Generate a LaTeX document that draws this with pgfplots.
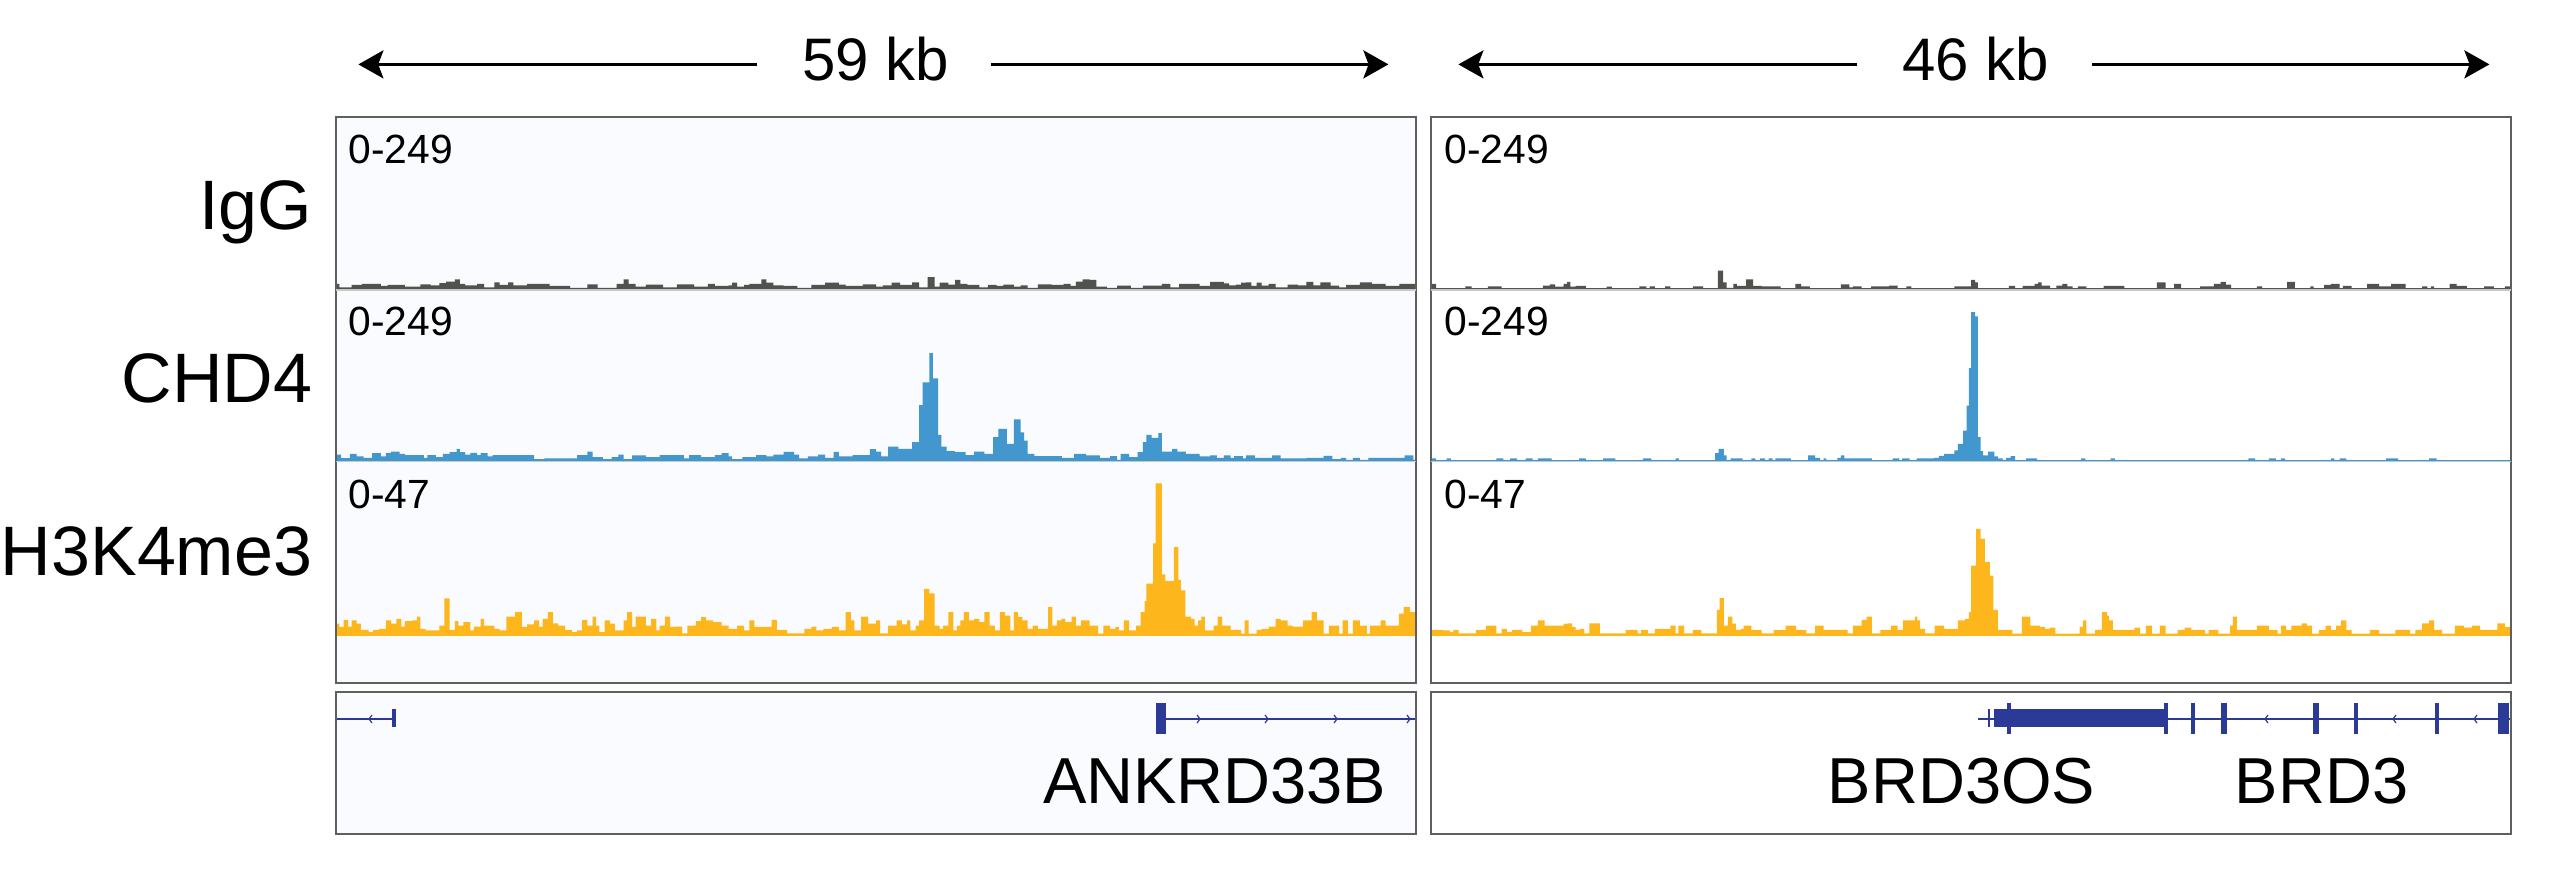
\documentclass[border=0pt]{standalone}
\usepackage{fontspec}
\setmainfont{Liberation Sans}
\usepackage{pgfplots}
\pgfplotsset{compat=1.18}
\usetikzlibrary{arrows.meta}
\definecolor{igg}{RGB}{80,82,78}
\definecolor{chd}{RGB}{66,151,206}
\definecolor{hkm}{RGB}{253,183,28}
\definecolor{gene}{RGB}{43,58,150}
\definecolor{frmc}{RGB}{95,95,95}
\definecolor{sepc}{RGB}{200,200,200}
\definecolor{bgL}{RGB}{249,251,254}
\pgfplotsset{
  trk/.style={scale only axis, anchor=south west, width=270bp, xmin=0, xmax=3136, axis lines=none, clip=true},
  frm/.style={scale only axis, anchor=south west, width=270bp, xmin=0, xmax=1, ymin=0, ymax=1, xtick=\empty, ytick=\empty},
  bars/.style={const plot mark left, fill=#1, draw=none},
  gax/.style={scale only axis, anchor=south west, width=270bp, height=35.5bp, xmin=0, xmax=1080, ymin=-115, ymax=27, axis lines=none, clip=false},
  exon/.style={fill=gene, draw=none},
  intr/.style={gene, line width=0.4bp},
  chev/.style={gene, line width=0.3bp},
}
\newcommand{\igglo}{\fontsize{17.5bp}{20bp}\selectfont}
\newcommand{\rng}{\fontsize{10.2bp}{12bp}\selectfont}
\tikzset{kbarrow/.style={line width=0.75bp, -{Stealth[length=6.25bp,width=7bp,inset=1.3bp]}}}
\begin{document}
\begin{tikzpicture}
\path[use as bounding box] (0,0) rectangle (640bp,221bp);
% ---------- backgrounds
\begin{axis}[frm, at={(84bp,50.25bp)}, height=141.5bp, axis line style={draw=none}, axis background/.style={fill=bgL}]
\addplot[draw=none] coordinates {(0,0)};
\end{axis}
\begin{axis}[frm, at={(84bp,12.5bp)}, height=35.5bp, axis line style={draw=none}, axis background/.style={fill=bgL}]
\addplot[draw=none] coordinates {(0,0)};
\end{axis}
% ---------- LEFT IgG
\begin{axis}[trk, at={(84bp,148.5bp)}, height=43.25bp, ymin=-1.5, ymax=249]
\addplot[bars=igg] coordinates {
(0,7.2) (10,2.4) (45,5.8) (75,7.2) (130,4.3) (150,5.8) (200,3.4) (245,6.7) (275,5.3) (300,8.6) (320,10.6) (345,13.9) (360,7.2) (375,5.3) (410,7.2) (430,2.4) (460,9.6) (475,5.8) (500,9.6) (515,5.3) (555,7.2) (620,4.3) (680,1.4) (730,6.7) (760,1.4) (815,7.2) (835,13.9) (850,7.2) (870,3.4) (900,6.2) (950,2.4) (990,6.7) (1040,3.4) (1080,7.2) (1100,4.3) (1140,5.3) (1150,9.1) (1165,3.4) (1185,5.8) (1200,7.2) (1235,13.9) (1250,9.1) (1270,5.3) (1300,4.3) (1340,1.4) (1380,5.8) (1420,9.1) (1460,6.2) (1480,4.3) (1530,6.7)
(1568,3.4) (1588,5.3) (1613,9.1) (1638,5.8) (1673,9.6) (1693,2.4) (1718,17.3) (1738,3.4) (1753,9.1) (1778,6.2) (1798,13) (1813,7.2) (1833,5.8) (1868,2.4) (1893,5.8) (1918,4.3) (1938,6.2) (1968,3.4) (1988,5.3) (2008,1.4) (2038,6.7) (2078,5.8) (2113,7.2) (2133,4.3) (2148,10.6) (2168,13.9) (2188,13) (2208,3.4) (2238,1.4) (2268,4.8) (2308,1.4) (2343,4.8) (2398,7.2) (2423,2.4) (2448,7.2) (2508,4.3) (2538,10.1) (2578,8.2) (2593,5.3) (2613,6.2) (2628,9.1) (2643,9.6) (2658,4.3) (2673,9.1) (2688,4.8) (2708,7.2) (2728,2.4) (2763,6.2) (2793,5.3) (2818,10.1) (2838,5.3) (2858,9.6) (2888,4.8) (2913,2.4) (2933,5.8) (2973,9.6) (3008,7.2) (3048,4.3) (3088,7.2) (3136,7.2)
} \closedcycle;
\addplot[igg, line width=0.65bp] coordinates {(0,0) (3136,0)};
\end{axis}
% ---------- LEFT CHD4
\begin{axis}[trk, at={(84bp,105.625bp)}, height=42.875bp, ymin=-1.5, ymax=249]
\addplot[bars=chd] coordinates {
(0,8.7) (15,3.4) (40,9.7) (60,5.8) (80,3.9) (105,10.7) (130,5.8) (145,11.2) (160,13.1) (185,9.7) (200,7.8) (255,3.9) (265,7.8) (290,4.9) (310,9.7) (330,12.1) (350,17) (360,12.1) (375,8.7) (390,11.2) (410,7.8) (420,10.7) (440,5.8) (455,7.8) (575,1.9) (605,2.9) (700,7.8) (730,13.1) (745,4.9) (775,1.9) (800,4.9) (820,8.7) (835,1.9) (860,7.3) (900,4.9) (940,7.8) (1010,2.9) (1025,7.8) (1060,4.9) (1100,7.8) (1120,10.7) (1140,5.8) (1150,1.9) (1180,4.9) (1220,7.8) (1250,5.8) (1270,8.7) (1300,12.6) (1330,8.7) (1345,2.9) (1370,5.8) (1400,8.7) (1420,3.9) (1445,12.6) (1460,5.8) (1500,7.8) (1550,16.5)
(1568,13.1) (1583,5.8) (1603,20.4) (1633,17) (1673,26.7) (1693,81) (1703,114) (1723,156.7) (1733,119.8) (1748,37.3) (1758,20.4) (1773,13.6) (1798,12.1) (1828,7.8) (1853,13.1) (1883,9.7) (1908,34) (1923,46) (1948,24.3) (1968,60.1) (1988,41.2) (1998,29.1) (2008,9.7) (2028,6.3) (2108,3.9) (2143,9.7) (2178,7.3) (2218,3.9) (2248,6.3) (2268,1) (2278,9.7) (2303,4.9) (2328,12.1) (2343,26.7) (2353,37.3) (2368,33) (2388,39.8) (2398,13.1) (2428,17) (2443,13.1) (2468,9.7) (2508,5.8) (2538,7.3) (2558,3.9) (2578,7.3) (2598,3.9) (2608,6.3) (2633,2.9) (2643,7.3) (2668,3.9) (2718,7.3) (2743,2.9) (2818,3.9) (2868,6.8) (2893,1.9) (2918,3.9) (2933,1) (2953,3.9) (2973,1) (2998,3.9) (3103,7.3) (3128,1) (3136,1)
} \closedcycle;
\addplot[chd, line width=0.4bp] coordinates {(0,0) (3136,0)};
\end{axis}
% ---------- LEFT H3K4me3
\begin{axis}[trk, at={(84bp,50.25bp)}, height=55.375bp, ymin=-12.83, ymax=47]
\addplot[bars=hkm] coordinates {
(0,3.2) (10,2.3) (22,4.2) (35,2.4) (45,4.1) (60,3.2) (72,1.5) (95,0.9) (108,1.5) (125,1.8) (145,4.1) (160,3.2) (175,4.5) (190,2.4) (200,3.9) (220,4.1) (235,5.1) (245,1.8) (260,1.4) (300,2.7) (315,10) (330,1.5) (345,3.9) (355,2.7) (370,3.6) (390,1.4) (400,2.4) (420,4.5) (430,2.7) (460,1.8) (475,1.4) (495,5.1) (520,6.3) (540,2.3) (555,3) (575,4.1) (590,2.3) (600,4.5) (615,6.3) (630,3.3) (645,2.7) (665,1.5) (685,0.9) (700,1.4) (715,4.2) (730,2.7) (745,5.1) (755,2.7) (765,0.9) (780,4.1) (795,3.2) (810,1.4) (835,4.1) (845,6.3) (860,2.3) (870,5.1) (900,2.7) (915,4.5) (930,1.4) (940,2.7) (955,5.1) (970,2.3) (980,2.4) (1005,0.6) (1020,2.7) (1045,3.9) (1060,5) (1075,4.1) (1095,3.6) (1120,2.7) (1140,1.8) (1165,2.7) (1185,1.4) (1200,4.1) (1215,2.3) (1265,4.2) (1280,1.5) (1310,0.6) (1360,1.8) (1380,2.4) (1395,1.4) (1415,1.8) (1440,2.3) (1460,1.4) (1480,6.3) (1495,4.1) (1505,1.4) (1525,5.1) (1545,3.2)
(1568,4.1) (1580,0.6) (1603,2.7) (1628,4.1) (1643,3) (1658,4.1) (1668,1.4) (1683,2.7) (1693,4.1) (1708,12.6) (1723,11.4) (1738,2.7) (1753,1.8) (1763,2.7) (1778,6.3) (1793,1.4) (1803,2.7) (1813,4.1) (1823,6.3) (1838,4.1) (1853,4.5) (1868,3.6) (1883,6.3) (1898,2.7) (1913,1.4) (1928,6.3) (1943,5.4) (1958,1.4) (1968,6.3) (1980,5) (1993,4.1) (2008,1.8) (2023,2.7) (2038,1.8) (2068,7.7) (2080,2.7) (2093,4.1) (2106,4.5) (2118,3.6) (2136,5.1) (2148,2.7) (2163,4.1) (2188,2.7) (2213,0.5) (2228,2.7) (2248,1.8) (2263,2.3) (2273,1.4) (2288,4.1) (2303,1.4) (2323,2.7) (2336,6.3) (2348,9.3) (2353,14) (2373,24.9) (2380,41.1) (2398,16.5) (2408,14.7) (2433,23.9) (2446,15) (2453,12.2) (2466,5.1) (2483,4.5) (2493,2.7) (2503,4.1) (2513,5.1) (2523,1.4) (2548,2.7) (2560,5.1) (2573,2.7) (2598,1.5) (2628,0.5) (2638,4.1) (2650,0.5) (2673,1.5) (2688,1.8) (2708,2.4) (2728,4.5) (2743,4.1) (2763,2.7) (2778,2.4) (2808,4.1) (2833,6.3) (2848,4.1) (2868,0.5) (2883,2.7) (2913,0.5) (2923,4.1) (2938,0.5) (2953,4.1) (2973,2.7) (2993,0.5) (3003,2.7) (3033,4.1) (3048,2.7) (3086,5.9) (3100,7.7) (3118,6.3) (3136,6.3)
} \closedcycle;
\addplot[hkm, line width=0.4bp] coordinates {(0,0) (3136,0)};
\end{axis}
% ---------- RIGHT IgG
\begin{axis}[trk, at={(357.75bp,148.5bp)}, height=43.25bp, ymin=-1.5, ymax=249]
\addplot[bars=igg] coordinates {
(0,7.2) (15,0) (100,3.8) (118,0) (165,3.8) (205,0) (325,4.8) (345,6.7) (360,3.4) (385,7.2) (395,10.1) (405,3.4) (420,4.3) (450,0) (510,3.4) (525,0) (605,3.8) (625,0) (635,3.8) (650,0) (680,3.8) (695,0) (760,3.8) (790,0) (833,26.4) (848,9.6) (858,1.4) (878,7.2) (888,4.3) (915,13.9) (935,4.3) (960,3.8) (1015,0) (1058,7.2) (1075,3.8) (1100,0) (1190,6.7) (1215,2.4) (1225,3.8) (1250,0) (1278,3.8) (1330,4.8) (1355,0) (1380,3.8) (1395,0) (1520,3.8)
(1568,13) (1580,9.6) (1588,0) (1678,4.3) (1696,0) (1718,4.3) (1753,7.2) (1763,9.6) (1773,4.8) (1798,0) (1816,4.8) (1833,7.2) (1848,3.8) (1863,0) (1878,3.8) (1903,0) (1953,4.3) (2013,0) (2108,9.6) (2133,0) (2158,7.2) (2178,0) (2233,3.8) (2273,7.2) (2293,10.1) (2308,6.2) (2323,0) (2398,3.8) (2413,0) (2486,10.1) (2508,0) (2553,3.8) (2563,0) (2593,5.8) (2613,7.2) (2638,0) (2648,4.3) (2673,0) (2718,7.2) (2753,3.8) (2788,7.2) (2830,0) (2878,3.8) (2893,0) (2903,3.8) (2913,0) (2958,7.2) (2978,4.3) (3008,0) (3058,3.8) (3086,0) (3118,3.8) (3136,3.8)
} \closedcycle;
\addplot[igg, line width=0.65bp] coordinates {(0,0) (3136,0)};
\end{axis}
% ---------- RIGHT CHD4
\begin{axis}[trk, at={(357.75bp,105.625bp)}, height=42.875bp, ymin=-1.5, ymax=249]
\addplot[bars=chd] coordinates {
(0,2.9) (15,0) (45,2.9) (58,0) (190,2.9) (210,0) (230,2.9) (250,0) (275,2.9) (295,0) (310,2.9) (350,0) (430,2.9) (450,0) (500,2.9) (535,0) (615,2.9) (640,0) (710,2.9) (720,0) (825,10.7) (835,17) (850,7.3) (858,0) (870,2.9) (905,0) (930,2.9) (942,0) (955,2.9) (970,0) (980,2.9) (992,0) (1000,2.9) (1045,0) (1095,7.3) (1115,3.9) (1130,0) (1140,2.9) (1148,0) (1180,3.9) (1190,7.3) (1200,2.9) (1280,0) (1340,2.9) (1360,0) (1368,2.9) (1390,0) (1410,2.9) (1460,3.9) (1475,6.8) (1490,9.7) (1520,14.6) (1530,24.3) (1545,43.7) (1555,80) (1562,134.8)
(1568,216.8) (1580,210.5) (1588,34) (1596,13.6) (1603,7.3) (1618,13.1) (1636,5.8) (1646,2.9) (1660,1) (1670,3.9) (1683,6.3) (1696,0) (1728,2.9) (1760,0) (1888,2.9) (1900,0) (1973,2.9) (1986,0) (2373,2.9) (2393,0) (2433,2.9) (2453,0) (2468,2.9) (2480,0) (2613,2.9) (2623,0) (2638,2.9) (2658,0) (2773,2.9) (2808,0) (2898,2.9) (2920,0) (3136,0)
} \closedcycle;
\addplot[chd, line width=0.4bp] coordinates {(0,0) (3136,0)};
\end{axis}
% ---------- RIGHT H3K4me3
\begin{axis}[trk, at={(357.75bp,50.25bp)}, height=55.375bp, ymin=-12.83, ymax=47]
\addplot[bars=hkm] coordinates {
(0,1.5) (35,1.4) (55,0.9) (65,1.5) (80,0.6) (130,1.5) (160,2.7) (190,0.6) (205,1.8) (220,0.9) (235,1.5) (265,0.9) (290,2.7) (310,4.1) (330,2.7) (385,3.2) (398,3.3) (410,2.3) (420,1.5) (432,1.8) (445,0.6) (460,3.3) (490,0.6) (565,1.5) (600,0.6) (610,1.5) (630,0.6) (650,1.8) (695,2.7) (710,0.6) (718,2.7) (735,0.6) (760,1.5) (785,0.6) (830,6.9) (838,10.1) (850,2.7) (862,5.1) (875,3.2) (885,1.5) (900,1.8) (908,2.7) (930,1.5) (960,0.6) (995,1.5) (1030,2.7) (1060,1.5) (1090,0.6) (1115,2.7) (1140,1.5) (1210,0.6) (1225,2.7) (1250,4.2) (1265,5.1) (1280,0.6) (1305,1.5) (1335,2.7) (1355,1.5) (1370,4.1) (1405,5.1) (1412,4.1) (1420,1.8) (1435,0.6) (1462,2.7) (1490,1.8) (1530,4.1) (1550,4.5) (1562,6.3)
(1568,18.9) (1583,28.8) (1596,26.1) (1608,19.8) (1623,16.2) (1633,6.9) (1646,1.5) (1688,0.5) (1716,5.1) (1740,2.7) (1768,2.3) (1783,1.8) (1796,2.1) (1813,0.5) (1883,2.3) (1893,4.1) (1903,0.5) (1928,1.5) (1948,6.3) (1963,5.4) (1968,4.1) (1980,1.5) (2043,2.1) (2058,0.5) (2076,2.7) (2093,0.5) (2116,2.7) (2133,0.5) (2168,1.5) (2188,2.1) (2208,1.5) (2248,0.5) (2258,1.5) (2286,0.5) (2320,2.7) (2328,5.1) (2340,1.5) (2398,2.7) (2433,1.5) (2458,0.5) (2468,2.7) (2483,1.5) (2498,2.7) (2528,3.3) (2543,2.7) (2558,0.5) (2578,1.5) (2598,2.7) (2613,1.5) (2628,2.7) (2643,4.1) (2658,1.5) (2673,0.5) (2726,1.5) (2753,0.5) (2800,1.5) (2843,0.5) (2858,1.5) (2878,3.3) (2898,4.1) (2913,1.5) (2936,0.5) (2973,2.7) (3000,2.1) (3023,2.7) (3046,1.5) (3096,3.3) (3118,2.3) (3136,2.3)
} \closedcycle;
\addplot[hkm, line width=0.4bp] coordinates {(0,0) (3136,0)};
\end{axis}
% ---------- frames
\begin{axis}[frm, at={(84bp,50.25bp)}, height=141.5bp, axis line style={draw=frmc, line width=0.5bp}]
\addplot[draw=none] coordinates {(0,0)};
\draw[sepc, line width=0.3bp] (rel axis cs:0,0.6943) -- (rel axis cs:1,0.6943);
\draw[sepc, line width=0.3bp] (rel axis cs:0,0.3913) -- (rel axis cs:1,0.3913);
\end{axis}
\begin{axis}[frm, at={(357.75bp,50.25bp)}, height=141.5bp, axis line style={draw=frmc, line width=0.5bp}]
\addplot[draw=none] coordinates {(0,0)};
\draw[sepc, line width=0.3bp] (rel axis cs:0,0.6943) -- (rel axis cs:1,0.6943);
\draw[sepc, line width=0.3bp] (rel axis cs:0,0.3913) -- (rel axis cs:1,0.3913);
\end{axis}
% ---------- gene tracks
\begin{axis}[gax, at={(84bp,12.5bp)}]
\addplot[intr] coordinates {(0,0) (58,0)};
\addplot[intr] coordinates {(830,0) (1080,0)};
\addplot[exon] coordinates {(56,-8) (60,-8) (60,10) (56,10)};
\addplot[exon] coordinates {(820,-15) (830,-15) (830,16) (820,16)};
\addplot[chev] coordinates {(36,4) (33,0) (36,-4)};
\addplot[chev] coordinates {(861,4) (864,0) (861,-4)};
\addplot[chev] coordinates {(929,4) (932,0) (929,-4)};
\addplot[chev] coordinates {(998,4) (1001,0) (998,-4)};
\addplot[chev] coordinates {(1071,4) (1074,0) (1071,-4)};
\end{axis}
\begin{axis}[gax, at={(357.75bp,12.5bp)}]
\addplot[intr] coordinates {(547,0) (1080,0)};
\addplot[exon] coordinates {(557,-8) (559,-8) (559,10) (557,10)};
\addplot[exon] coordinates {(563,-8) (737,-8) (737,10) (563,10)};
\addplot[exon] coordinates {(576,-15) (580,-15) (580,16) (576,16)};
\addplot[exon] coordinates {(733,-15) (737,-15) (737,16) (733,16)};
\addplot[exon] coordinates {(760,-15) (764,-15) (764,16) (760,16)};
\addplot[exon] coordinates {(790,-15) (796,-15) (796,16) (790,16)};
\addplot[exon] coordinates {(882,-15) (888,-15) (888,16) (882,16)};
\addplot[exon] coordinates {(923,-15) (927,-15) (927,16) (923,16)};
\addplot[exon] coordinates {(1004,-15) (1008,-15) (1008,16) (1004,16)};
\addplot[exon] coordinates {(1067,-15) (1078,-15) (1078,16) (1067,16)};
\addplot[chev] coordinates {(837,4) (834,0) (837,-4)};
\addplot[chev] coordinates {(965,4) (962,0) (965,-4)};
\addplot[chev] coordinates {(1046,4) (1043,0) (1046,-4)};
\end{axis}
\begin{axis}[frm, at={(84bp,12.5bp)}, height=35.5bp, axis line style={draw=frmc, line width=0.5bp}]
\addplot[draw=none] coordinates {(0,0)};
\end{axis}
\begin{axis}[frm, at={(357.75bp,12.5bp)}, height=35.5bp, axis line style={draw=frmc, line width=0.5bp}]
\addplot[draw=none] coordinates {(0,0)};
\end{axis}
% ---------- texts
\node[anchor=base east, inner sep=0, font=\igglo] at (78.25bp,163.5bp) {IgG};
\node[anchor=base east, inner sep=0, font=\igglo] at (78.25bp,120.25bp) {CHD4};
\node[anchor=base east, inner sep=0, font=\igglo] at (78.25bp,77bp) {H3K4me3};
\node[anchor=base west, inner sep=0, font=\rng] at (86.9bp,180bp) {0-249};
\node[anchor=base west, inner sep=0, font=\rng] at (86.9bp,137bp) {0-249};
\node[anchor=base west, inner sep=0, font=\rng] at (86.9bp,93.9bp) {0-47};
\node[anchor=base west, inner sep=0, font=\rng] at (360.9bp,180bp) {0-249};
\node[anchor=base west, inner sep=0, font=\rng] at (360.9bp,137bp) {0-249};
\node[anchor=base west, inner sep=0, font=\rng] at (360.9bp,93.9bp) {0-47};
\node[anchor=base, inner sep=0, font=\fontsize{15bp}{18bp}\selectfont] at (218.9bp,200.75bp) {59 kb};
\node[anchor=base, inner sep=0, font=\fontsize{15bp}{18bp}\selectfont] at (494bp,200.75bp) {46 kb};
\draw[kbarrow] (189.25bp,204.9bp) -- (89.6bp,204.9bp);
\draw[kbarrow] (247.75bp,204.9bp) -- (347.1bp,204.9bp);
\draw[kbarrow] (464.25bp,204.9bp) -- (364.6bp,204.9bp);
\draw[kbarrow] (523bp,204.9bp) -- (622.35bp,204.9bp);
\node[anchor=base east, inner sep=0, font=\fontsize{16.25bp}{19bp}\selectfont] at (346.75bp,20.25bp) {ANKRD33B};
\node[anchor=base east, inner sep=0, font=\fontsize{16.25bp}{19bp}\selectfont] at (524bp,20.25bp) {BRD3OS};
\node[anchor=base east, inner sep=0, font=\fontsize{16.25bp}{19bp}\selectfont] at (602.25bp,20.25bp) {BRD3};
\end{tikzpicture}
\end{document}
